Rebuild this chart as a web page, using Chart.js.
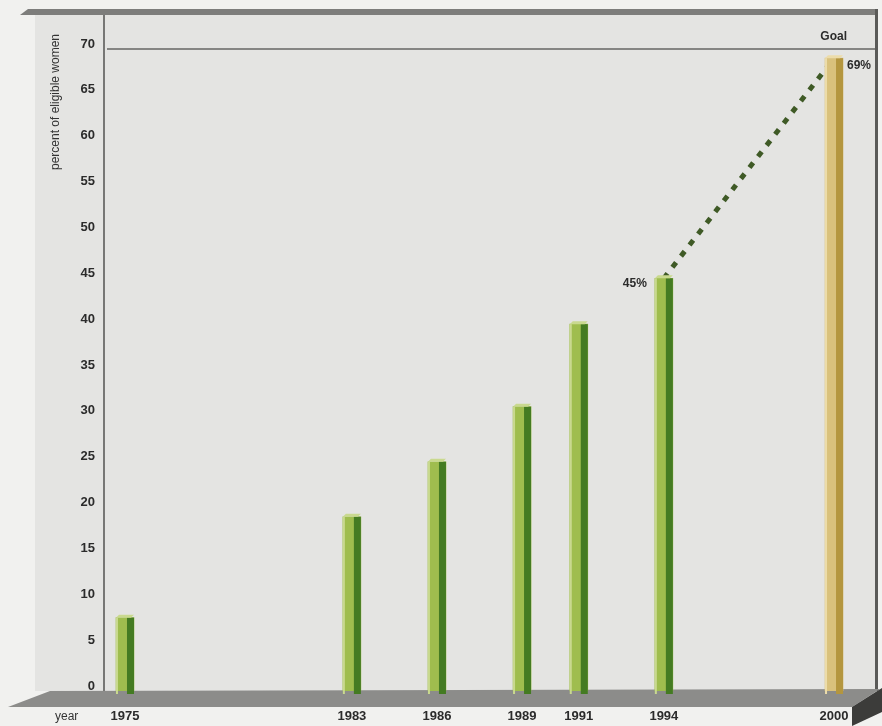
<!DOCTYPE html>
<html>
<head>
<meta charset="utf-8">
<script src="https://cdn.jsdelivr.net/npm/chart.js@4.4.0/dist/chart.umd.min.js"></script>
<style>
  html, body { margin: 0; padding: 0; background: #f1f1ef; }
  canvas { display: block; }
</style>
</head>
<body>
<canvas id="chart" width="882" height="726"></canvas>
<script>
// data
const years = [1975, 1983, 1986, 1989, 1991, 1994, 2000];
const percents = [8, 19, 25, 31, 40, 45, 69];
const trendYears = [1994, 2000];
const trendValues = [45, 69];
const goalValue = 70;
const yTicks = [0, 5, 10, 15, 20, 25, 30, 35, 40, 45, 50, 55, 60, 65, 70];

const tickFont = { family: 'Liberation Sans, Arial, sans-serif', size: 13, weight: 'bold' };

// front / side / cap colours, last bar is the goal year
const frontColors = years.map((y, i) => i === years.length - 1 ? '#d9c17c' : '#9fbd4e');
const sideColors = years.map((y, i) => i === years.length - 1 ? '#b4963f' : '#447b22');
const capColors = years.map((y, i) => i === years.length - 1 ? '#ecdcaa' : '#c9d98f');

const panelPlugin = {
    id: 'panel',
    beforeDraw(chart) {
        const ctx = chart.ctx;
        const yScale = chart.scales.y;
        const area = chart.chartArea;
        const floorY = yScale.getPixelForValue(0);
        ctx.save();
        // page
        ctx.fillStyle = '#f1f1ef';
        ctx.fillRect(0, 0, chart.width, chart.height);
        // back wall
        ctx.fillStyle = '#e4e4e2';
        ctx.fillRect(35, 15, area.right - 35, floorY - 15);
        // top band
        ctx.fillStyle = '#7d7d7b';
        ctx.beginPath();
        ctx.moveTo(20, 15);
        ctx.lineTo(28, 9);
        ctx.lineTo(area.right + 2, 9);
        ctx.lineTo(area.right + 2, 15);
        ctx.closePath();
        ctx.fill();
        // right edge
        ctx.fillStyle = '#5a5a58';
        ctx.fillRect(area.right - 1, 9, 3, floorY - 9);
        // floor
        ctx.fillStyle = '#8c8c8a';
        ctx.beginPath();
        ctx.moveTo(50, floorY);
        ctx.lineTo(area.right + 4, floorY - 2);
        ctx.lineTo(852, floorY + 16);
        ctx.lineTo(8, floorY + 16);
        ctx.closePath();
        ctx.fill();
        // floor side
        ctx.fillStyle = '#3c3c3a';
        ctx.beginPath();
        ctx.moveTo(852, floorY + 16);
        ctx.lineTo(882, floorY - 3);
        ctx.lineTo(882, floorY + 21);
        ctx.lineTo(852, 726);
        ctx.closePath();
        ctx.fill();
        // axis line up to the top band
        ctx.strokeStyle = '#777775';
        ctx.lineWidth = 2;
        ctx.beginPath();
        ctx.moveTo(area.left, 15);
        ctx.lineTo(area.left, floorY);
        ctx.stroke();
        // goal line
        const gy = yScale.getPixelForValue(goalValue);
        ctx.strokeStyle = '#858583';
        ctx.lineWidth = 2;
        ctx.beginPath();
        ctx.moveTo(area.left + 3, gy);
        ctx.lineTo(area.right - 1, gy);
        ctx.stroke();
        // texts
        ctx.fillStyle = '#2b2b2b';
        ctx.font = 'bold 12px Liberation Sans, Arial, sans-serif';
        ctx.textAlign = 'right';
        ctx.textBaseline = 'middle';
        ctx.fillText('Goal', 847, gy - 12);
        ctx.font = '12px Liberation Sans, Arial, sans-serif';
        ctx.fillStyle = '#333';
        ctx.textAlign = 'left';
        ctx.fillText('year', 55, 717);
        ctx.translate(56, 102);
        ctx.rotate(-Math.PI / 2);
        ctx.textAlign = 'center';
        ctx.fillText('percent of eligible women', 0, 0);
        ctx.restore();
    }
};

const barShadePlugin = {
    id: 'barShade',
    afterDatasetDraw(chart, args) {
        if (args.index !== 0) return;
        const ctx = chart.ctx;
        const meta = args.meta;
        ctx.save();
        meta.data.forEach((bar, i) => {
            const left = bar.x - bar.width / 2;
            const right = bar.x + bar.width / 2;
            const top = bar.y;
            const bottom = bar.base + 3;
            // dark side
            ctx.fillStyle = sideColors[i];
            ctx.fillRect(right - 7, top, 7, bottom - top);
            // light edge
            ctx.fillStyle = capColors[i];
            ctx.fillRect(left, top, 2, bottom - top);
            // cap
            ctx.beginPath();
            ctx.moveTo(left, top);
            ctx.lineTo(left + 3, top - 3);
            ctx.lineTo(right, top - 3);
            ctx.lineTo(right - 3, top);
            ctx.closePath();
            ctx.fill();
        });
        // value labels
        ctx.fillStyle = '#2b2b2b';
        ctx.font = 'bold 12px Liberation Sans, Arial, sans-serif';
        ctx.textBaseline = 'middle';
        const b94 = meta.data[years.indexOf(1994)];
        ctx.textAlign = 'right';
        ctx.fillText(percents[years.indexOf(1994)] + '%', b94.x - 17, b94.y + 5);
        const b00 = meta.data[years.indexOf(2000)];
        ctx.textAlign = 'left';
        ctx.fillText(percents[years.indexOf(2000)] + '%', b00.x + 13, b00.y + 8);
        ctx.restore();
    }
};

new Chart(document.getElementById('chart'), {
    data: {
        datasets: [{
            type: 'bar',
            data: years.map((y, i) => ({ x: y, y: percents[i] })),
            backgroundColor: frontColors,
            barThickness: 18,
            borderWidth: 0
        }, {
            type: 'line',
            data: trendYears.map((y, i) => ({ x: y, y: trendValues[i] })),
            borderColor: '#3f5a26',
            borderWidth: 5,
            borderDash: [6, 8],
            pointRadius: 0,
            fill: false
        }]
    },
    options: {
        responsive: false,
        animation: false,
        devicePixelRatio: 1,
        layout: { padding: { top: 49, right: 6, left: 0, bottom: 0 } },
        plugins: {
            legend: { display: false },
            tooltip: { enabled: false }
        },
        scales: {
            x: {
                type: 'linear',
                offset: false,
                min: 1974.26,
                max: 2001.48,
                afterBuildTicks: scale => { scale.ticks = years.map(v => ({ value: v })); },
                afterFit: scale => { scale.height = 35; },
                grid: { display: false, drawTicks: false, offset: false },
                border: { display: false },
                ticks: {
                    font: tickFont,
                    color: '#2b2b2b',
                    padding: 18,
                    maxRotation: 0,
                    autoSkip: false,
                    callback: v => String(v)
                }
            },
            y: {
                min: 0,
                max: 70,
                afterBuildTicks: scale => { scale.ticks = yTicks.map(v => ({ value: v })); },
                afterFit: scale => { scale.width = 104; },
                grid: { display: false, drawTicks: false },
                border: { display: false },
                ticks: {
                    font: tickFont,
                    color: '#2b2b2b',
                    padding: 9,
                    labelOffset: -5
                }
            }
        }
    },
    plugins: [panelPlugin, barShadePlugin]
});
</script>
</body>
</html>
